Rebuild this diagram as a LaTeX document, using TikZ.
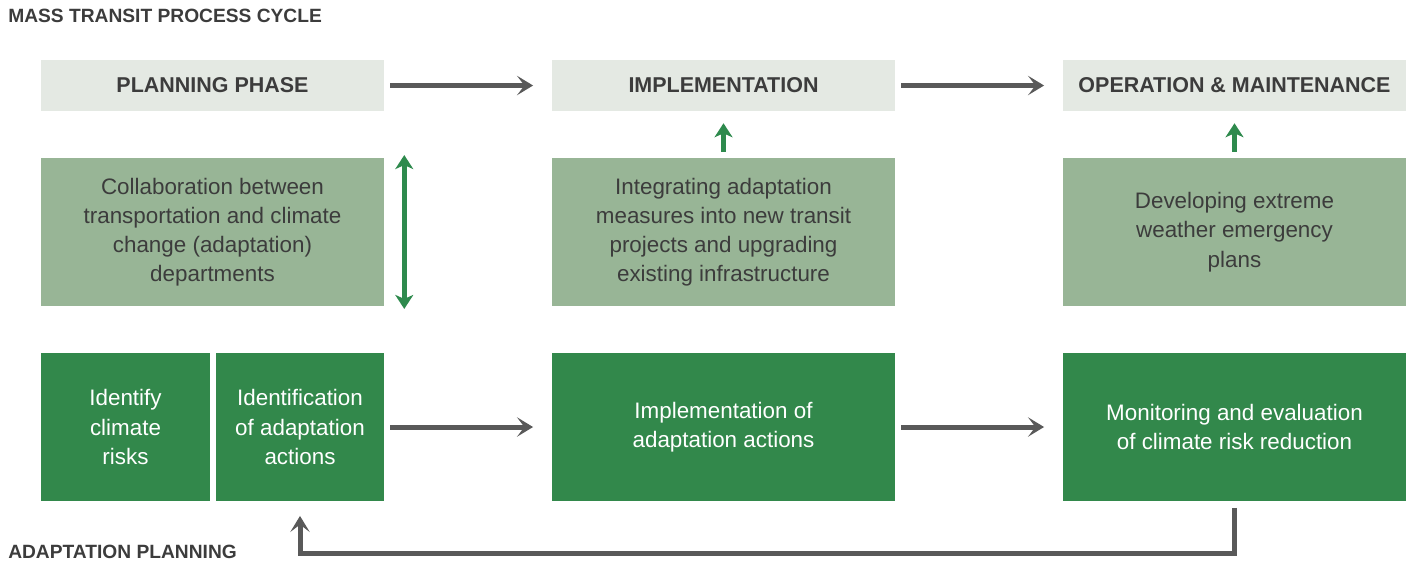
\documentclass[tikz,border=0pt]{standalone}
\usepackage{fontspec}
\setmainfont{Liberation Sans}
\usetikzlibrary{arrows.meta}

\definecolor{fasechiaro}{HTML}{E4E9E3}
\definecolor{verdemedio}{HTML}{98B596}
\definecolor{verdescuro}{HTML}{32884B}
\definecolor{grigiofreccia}{HTML}{595959}
\definecolor{verdefreccia}{HTML}{2E8A4D}
\definecolor{testoscuro}{HTML}{3C3C3C}

\tikzset{
  fase/.style={fill=fasechiaro, inner sep=0pt, minimum width=257.25pt, minimum height=38.25pt,
    font=\fontsize{16.1}{19}\selectfont\bfseries, text=testoscuro},
  misura/.style={fill=verdemedio, inner sep=0pt, minimum width=257.25pt, minimum height=111pt,
    align=center, font=\fontsize{16.8}{21.9}\selectfont, text=testoscuro},
  azione/.style={fill=verdescuro, inner sep=0pt, minimum width=257.25pt, minimum height=111pt,
    align=center, font=\fontsize{16.8}{21.9}\selectfont, text=white},
  freccia/.style={draw=grigiofreccia, line width=3.75pt,
    -{Stealth[length=12pt, width=14.5pt, inset=5.5pt]}},
  frecciaverde/.style={draw=verdefreccia, line width=3.75pt,
    -{Stealth[length=10.5pt, width=13.5pt, inset=3pt]}},
  titolo/.style={anchor=base west, inner sep=0pt, text=testoscuro,
    font=\fontsize{14.4}{16}\selectfont\bfseries}
}

\begin{document}
\begin{tikzpicture}[x=0.75pt, y=-0.75pt]
  \useasboundingbox (0,0) rectangle (1410,562);

  % ==========================================
  % 1. Titoli
  % ==========================================
  \node[titolo] (titciclo) at (8,22) {MASS TRANSIT PROCESS CYCLE};
  \node[titolo] (titadatt) at (8,558) {ADAPTATION PLANNING};

  % ==========================================
  % 2. Fasi del ciclo
  % ==========================================
  \node[fase] (plan) at (212.5,85.5) {PLANNING PHASE};
  \node[fase] (impl) at (723.5,85.5) {IMPLEMENTATION};
  \node[fase] (oper) at (1234.5,85.5) {OPERATION \& MAINTENANCE};

  % ==========================================
  % 3. Misure di adattamento
  % ==========================================
  \node[misura] (collab) at (212.5,232) {Collaboration between\\transportation and climate\\change (adaptation)\\departments};
  \node[misura] (integ) at (723.5,232) {Integrating adaptation\\measures into new transit\\projects and upgrading\\existing infrastructure};
  \node[misura] (devel) at (1234.5,232) {Developing extreme\\weather emergency\\plans};

  % ==========================================
  % 4. Pianificazione dell'adattamento
  % ==========================================
  \node[azione, minimum width=126.75pt] (ident) at (125.5,427) {Identify\\climate\\risks};
  \node[azione, minimum width=126pt] (identact) at (300,427) {Identification\\of adaptation\\actions};
  \node[azione] (implact) at (723.5,427) {Implementation of\\adaptation actions};
  \node[azione] (monit) at (1234.5,427) {Monitoring and evaluation\\of climate risk reduction};

  % ==========================================
  % 5. Frecce
  % ==========================================
  \draw[freccia, shorten <=4.5pt, shorten >=14pt] (plan) -- (impl);
  \draw[freccia, shorten <=4.5pt, shorten >=14pt] (impl) -- (oper);
  \draw[freccia, shorten <=4.5pt, shorten >=14pt] (identact) -- (implact);
  \draw[freccia, shorten <=4.5pt, shorten >=14pt] (implact) -- (monit);

  \draw[frecciaverde, shorten <=4.5pt, shorten >=9pt] (integ) -- (impl);
  \draw[frecciaverde, shorten <=4.5pt, shorten >=9pt] (devel) -- (oper);
  \draw[frecciaverde, {Stealth[length=10.5pt, width=13.5pt, inset=3pt]}-{Stealth[length=10.5pt, width=13.5pt, inset=3pt]}]
    ([xshift=15pt, yshift=2pt]collab.north east) -- ([xshift=15pt, yshift=-2pt]collab.south east);

  % ritorno dal monitoraggio
  \draw[freccia, line join=miter, shorten <=5pt, shorten >=11pt]
    (monit.south) -- ++(0,52) -| (identact.south);

\end{tikzpicture}
\end{document}
